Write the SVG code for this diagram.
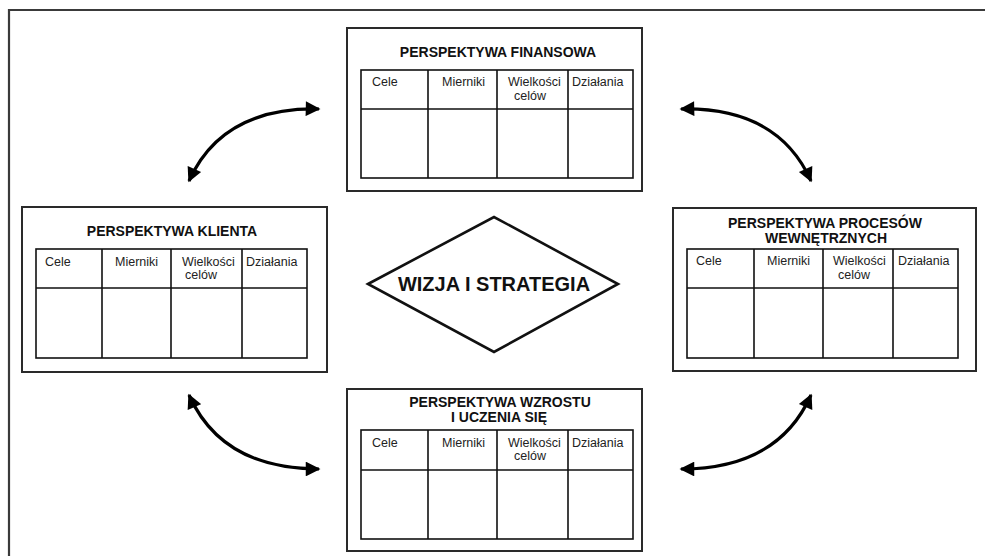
<svg xmlns="http://www.w3.org/2000/svg" width="985" height="556" viewBox="0 0 985 556">
<defs>
<style>
.frame{fill:none;stroke:#3a3a3a;stroke-width:2.2}
.box{fill:#fff;stroke:#2a2a2a;stroke-width:2}
.tbl{fill:none;stroke:#111;stroke-width:1.6}
.title{font-family:"Liberation Sans",Arial,sans-serif;font-weight:bold;font-size:14px;fill:#111;text-anchor:middle}
.hdr{font-family:"Liberation Sans",Arial,sans-serif;font-size:12.5px;fill:#222}
.big{font-family:"Liberation Sans",Arial,sans-serif;font-weight:bold;font-size:20px;fill:#111;text-anchor:middle}
.arr{fill:none;stroke:#000;stroke-width:3.2;marker-start:url(#ah);marker-end:url(#ah)}
</style>
<marker id="ah" viewBox="0 0 10 10" refX="9" refY="5" markerWidth="5.5" markerHeight="4.6" orient="auto-start-reverse" markerUnits="strokeWidth">
<path d="M0,0 L10,5 L0,10 Z" fill="#000"/>
</marker>
</defs>
<rect width="985" height="556" fill="#fff"/>
<path class="frame" d="M9,556 V10 H985"/>

<g id="finansowa">
<rect class="box" x="347" y="28" width="295" height="163"/>
<text class="title" x="498" y="57">PERSPEKTYWA FINANSOWA</text>
<rect class="tbl" x="361" y="70" width="272" height="108"/>
<path class="tbl" d="M361,109 H633 M428,70 V178 M497,70 V178 M568,70 V178"/>
<text class="hdr" x="372" y="86">Cele</text>
<text class="hdr" x="442" y="86">Mierniki</text>
<text class="hdr" x="508" y="86">Wielkości</text>
<text class="hdr" x="514" y="100">celów</text>
<text class="hdr" x="572" y="86">Działania</text>
</g>

<g id="klienta">
<rect class="box" x="22" y="207" width="305" height="165"/>
<text class="title" x="172" y="236">PERSPEKTYWA KLIENTA</text>
<rect class="tbl" x="36" y="249" width="271" height="109"/>
<path class="tbl" d="M36,288 H307 M102,249 V358 M171,249 V358 M242,249 V358"/>
<text class="hdr" x="45" y="266">Cele</text>
<text class="hdr" x="115" y="266">Mierniki</text>
<text class="hdr" x="182" y="266">Wielkości</text>
<text class="hdr" x="185" y="279">celów</text>
<text class="hdr" x="246" y="266">Działania</text>
</g>

<g id="procesow">
<rect class="box" x="673" y="208" width="303" height="163"/>
<text class="title" x="825" y="228">PERSPEKTYWA PROCESÓW</text>
<text class="title" x="826" y="243">WEWNĘTRZNYCH</text>
<rect class="tbl" x="687" y="249" width="271" height="109"/>
<path class="tbl" d="M687,288 H958 M754,249 V358 M823,249 V358 M893,249 V358"/>
<text class="hdr" x="696" y="265">Cele</text>
<text class="hdr" x="767" y="265">Mierniki</text>
<text class="hdr" x="833" y="265">Wielkości</text>
<text class="hdr" x="838" y="279">celów</text>
<text class="hdr" x="898" y="265">Działania</text>
</g>

<g id="wzrostu">
<rect class="box" x="347" y="389" width="295" height="162"/>
<text class="title" x="500" y="407">PERSPEKTYWA WZROSTU</text>
<text class="title" x="499" y="422">I UCZENIA SIĘ</text>
<rect class="tbl" x="361" y="430" width="272" height="109"/>
<path class="tbl" d="M361,470 H633 M428,430 V539 M497,430 V539 M568,430 V539"/>
<text class="hdr" x="372" y="447">Cele</text>
<text class="hdr" x="442" y="447">Mierniki</text>
<text class="hdr" x="508" y="447">Wielkości</text>
<text class="hdr" x="514" y="460">celów</text>
<text class="hdr" x="572" y="447">Działania</text>
</g>

<g id="wizja">
<polygon points="368,284 494,217 618,284 494,352" fill="#fff" stroke="#111" stroke-width="2.6" stroke-linejoin="miter"/>
<text class="big" x="494" y="291">WIZJA I STRATEGIA</text>
</g>

<g id="connectors">
<path class="arr" d="M319,109 Q222,107 189,181"/>
<path class="arr" d="M681,109 Q778,107 811,181"/>
<path class="arr" d="M189,395 Q222,469 319,469"/>
<path class="arr" d="M811,395 Q778,469 681,469"/>
</g>
</svg>
